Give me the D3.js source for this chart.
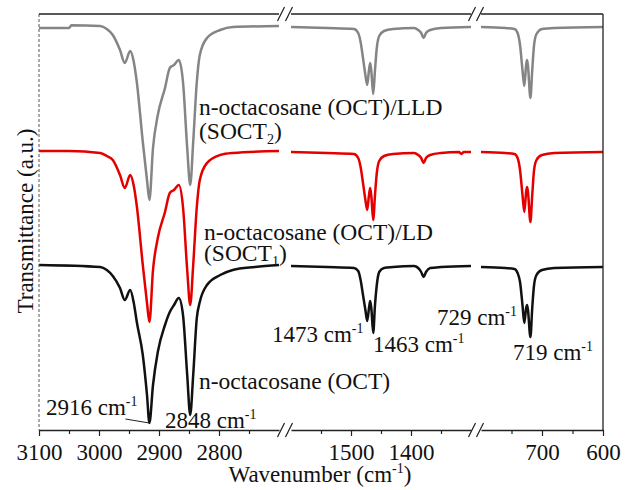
<!DOCTYPE html>
<html>
<head>
<meta charset="utf-8">
<script src="https://cdn.jsdelivr.net/npm/d3@7"></script>
<style>
body { margin: 0; background: #fff; }
svg text { font-family: "Liberation Serif", "Times New Roman", serif; fill: #111; }
</style>
</head>
<body>
<svg id="chart" width="628" height="490"></svg>
<script>
// broken wavenumber axis: three pieces
var segDomains = [[3100, 2700], [1600, 1300], [800, 600]];
var majorTicks = [[3100, 3000, 2900, 2800], [1500, 1400], [700, 600]];
var minorTicks = [[3050, 2950, 2850, 2750], [1550, 1450, 1350], [750, 650]];

// spectra, [wavenumber, transmittance a.u.] (curves are stacked)
var octLLD = [
  [3100, 100.5], [3050, 100.5], [3046, 101.2], [2998, 101], [2987, 100.25], [2977, 98.75],
  [2965, 95], [2957, 91.75], [2948, 94.75], [2942, 92], [2937, 87], [2927, 72], [2920, 62.5],
  [2916, 57.5], [2910, 70.5], [2902, 78.75], [2890, 85.5], [2882, 90.5], [2875, 91.25],
  [2867, 92.5], [2860, 87], [2853, 70.5], [2848, 61.25], [2843, 72], [2837, 87], [2832, 93.75],
  [2820, 98], [2798, 100], [2777, 100.75], [2700, 101],
  [1600, 100.75], [1540, 100.5], [1495, 100.25], [1488, 99.25], [1484, 97], [1480, 93],
  [1476, 88.75], [1473, 86.25], [1470, 90], [1468, 91.75], [1466, 89.5], [1463, 84], [1460, 90],
  [1457, 95.5], [1453, 98.5], [1445, 99.75], [1430, 100.25], [1395, 100.5], [1388, 100],
  [1383, 99.25], [1379, 98], [1375, 99.25], [1368, 100], [1350, 100.5], [1300, 100.75],
  [800, 100.75], [760, 100.5], [745, 100.25], [740, 99.25], [736, 96.25], [732, 90], [729, 86],
  [726, 91.25], [724.5, 92.5], [723, 91], [719, 83], [716, 90], [713, 96.25], [709, 99],
  [700, 100.25], [680, 100.5], [600, 100.75]
];

var octLD = [
  [3100, 69.75], [3050, 69.75], [2998, 69.25], [2987, 68.5], [2977, 67.5], [2965, 63.75],
  [2957, 60.5], [2948, 63.75], [2942, 61], [2937, 56], [2927, 41.25], [2920, 31.75], [2916, 27],
  [2910, 40], [2902, 48], [2890, 54.5], [2882, 59.25], [2875, 60], [2867, 61.25], [2860, 55.75],
  [2853, 40], [2848, 31.25], [2843, 41.25], [2837, 55.75], [2832, 62.5], [2820, 66.75],
  [2798, 68.75], [2777, 69.25], [2700, 69.75],
  [1600, 69.5], [1540, 69.25], [1495, 69], [1488, 68], [1484, 65.75], [1480, 61.75], [1476, 57.5],
  [1473, 55], [1470, 58.75], [1468, 60.5], [1466, 58.25], [1463, 52.5], [1460, 58.75],
  [1457, 64.25], [1453, 67.25], [1445, 68.5], [1430, 69], [1395, 69.25], [1388, 68.75],
  [1383, 68], [1379, 66.75], [1375, 68], [1368, 68.75], [1350, 69.25], [1320, 69.5],
  [1316, 69], [1312, 69.5], [1300, 69.5],
  [800, 69.5], [760, 69.25], [745, 69], [740, 68], [736, 65], [732, 58.75], [729, 54.5],
  [726, 59.5], [724.5, 60.75], [723, 59.5], [719, 52], [716, 58.75], [713, 65], [709, 67.5],
  [700, 68.75], [680, 69.25], [600, 69.5]
];

var oct = [
  [3100, 41.25], [2998, 40.75], [2987, 40], [2977, 38.5], [2965, 35.5], [2957, 32.5], [2948, 35],
  [2942, 31.75], [2937, 27], [2927, 18.75], [2920, 8.75], [2916, 1.75], [2910, 11.25],
  [2902, 19.5], [2890, 26.25], [2882, 29.5], [2875, 31.25], [2867, 33], [2860, 28.75],
  [2853, 13.75], [2848, 3.75], [2843, 13.75], [2837, 28], [2832, 32], [2820, 36.25],
  [2798, 38.75], [2777, 40], [2740, 40.75], [2700, 41.25],
  [1600, 41], [1540, 40.75], [1495, 40.5], [1488, 39.75], [1484, 37.5], [1480, 33.75], [1476, 30],
  [1473, 27.25], [1470, 30.5], [1468, 32.25], [1466, 30.25], [1463, 24.25], [1460, 31.25],
  [1457, 36.25], [1453, 39.5], [1445, 40.5], [1430, 40.75], [1395, 41], [1388, 40.5],
  [1383, 39.5], [1379, 38.25], [1375, 39.5], [1368, 40.5], [1350, 40.75], [1300, 41],
  [800, 40.75], [760, 40.5], [745, 40.25], [740, 39.25], [736, 37], [732, 31.25], [729, 26.75],
  [726, 30.5], [724.5, 31.25], [723, 30], [719, 23.25], [716, 30.5], [713, 36.25], [709, 38.75],
  [700, 40], [680, 40.5], [600, 40.75]
];

var seriesList = [
  { data: octLLD, color: '#858585' },
  { data: octLD, color: '#e50000' },
  { data: oct, color: '#111111' }
];

var svg = d3.select('#chart');
var plotTop = 14, plotBottom = 430, plotLeft = 39, plotRight = 603;
var segRanges = [[39, 279], [291, 471], [481, 603]];

var xs = segDomains.map(function(d, i){
  return d3.scaleLinear().domain(d).range(segRanges[i]);
});
var y = d3.scaleLinear().domain([0, 104]).range([plotBottom, plotTop]);

// spectra
var line = d3.line().curve(d3.curveMonotoneX);
seriesList.forEach(function(s){
  xs.forEach(function(x, i){
    var d = segDomains[i];
    var pts = s.data.filter(function(p){ return p[0] <= d[0] && p[0] >= d[1]; })
      .map(function(p){ return [x(p[0]), y(p[1])]; });
    svg.append('path')
      .attr('d', line(pts))
      .attr('fill', 'none')
      .attr('stroke', s.color)
      .attr('stroke-width', 2.5)
      .attr('stroke-linejoin', 'round');
  });
});

// frame
svg.append('line').attr('x1', plotLeft).attr('x2', plotLeft).attr('y1', plotTop).attr('y2', plotBottom)
  .attr('stroke', '#555').attr('stroke-width', 1).attr('stroke-dasharray', '3,2');
svg.append('line').attr('x1', plotRight).attr('x2', plotRight).attr('y1', plotTop).attr('y2', plotBottom)
  .attr('stroke', '#222').attr('stroke-width', 1.3);

xs.forEach(function(x, i){
  svg.append('line').attr('x1', segRanges[i][0]).attr('x2', segRanges[i][1])
    .attr('y1', plotTop).attr('y2', plotTop).attr('stroke', '#222').attr('stroke-width', 1.3);

  var ax = svg.append('g').attr('transform', 'translate(0,' + plotBottom + ')')
    .call(d3.axisBottom(x).tickValues(majorTicks[i]).tickSize(6).tickSizeOuter(0)
      .tickPadding(8).tickFormat(d3.format('d')));
  ax.attr('font-family', null);
  ax.select('.domain').attr('stroke', '#222').attr('stroke-width', 1.3);
  ax.selectAll('.tick line').attr('stroke', '#222').attr('stroke-width', 1.2);
  ax.selectAll('.tick text').attr('font-size', 23).attr('fill', '#111');

  var mx = svg.append('g').attr('transform', 'translate(0,' + plotBottom + ')')
    .call(d3.axisBottom(x).tickValues(minorTicks[i]).tickSize(4).tickSizeOuter(0).tickFormat(''));
  mx.select('.domain').remove();
  mx.selectAll('.tick line').attr('stroke', '#222').attr('stroke-width', 1.2);
});

// axis break marks
for (var i = 0; i < segRanges.length - 1; i++) {
  var cx = (segRanges[i][1] + segRanges[i + 1][0]) / 2;
  [plotTop, plotBottom].forEach(function(yy){
    [-4, 4].forEach(function(off){
      svg.append('line')
        .attr('x1', cx + off - 3.5).attr('y1', yy + 7)
        .attr('x2', cx + off + 3.5).attr('y2', yy - 7)
        .attr('stroke', '#222').attr('stroke-width', 1.3);
    });
  });
}

// text with super/subscripts: parts = [text, shift] (1 = sup, -1 = sub)
function richText(x, yy, parts, size, extra){
  var t = svg.append('text').attr('x', x).attr('y', yy).attr('font-size', size || 23);
  if (extra) extra(t);
  var shift = 0;
  parts.forEach(function(p){
    var want = p[1] === 1 ? -9 : (p[1] === -1 ? 5 : 0);
    var ts = t.append('tspan').text(p[0]).attr('dy', want - shift);
    if (p[1] !== 0) ts.attr('font-size', 14);
    shift = want;
  });
  return t;
}

richText(320, 482, [['Wavenumber (cm', 0], ['-1', 1], [')', 0]], 23, function(t){
  t.attr('text-anchor', 'middle');
});
svg.append('text').attr('transform', 'translate(33,221) rotate(-90)')
  .attr('text-anchor', 'middle').attr('font-size', 23).text('Transmittance (a.u.)');

richText(199, 115, [['n-octacosane (OCT)/LLD', 0]], 23.5);
richText(199, 139, [['(SOCT', 0], ['2', -1], [')', 0]], 23.5);
richText(204, 240, [['n-octacosane (OCT)/LD', 0]], 23.5);
richText(204, 261, [['(SOCT', 0], ['1', -1], [')', 0]], 23.5);
richText(199, 389, [['n-octacosane (OCT)', 0]], 23.5);

richText(46, 415, [['2916 cm', 0], ['-1', 1]]);
svg.append('line').attr('x1', xs[0](2916) - 24).attr('y1', y(1.75) - 4)
  .attr('x2', xs[0](2916)).attr('y2', y(1.75)).attr('stroke', '#222').attr('stroke-width', 1);
richText(165, 428, [['2848 cm', 0], ['-1', 1]]);
richText(272, 342, [['1473 cm', 0], ['-1', 1]]);
richText(373, 352, [['1463 cm', 0], ['-1', 1]]);
richText(437, 325, [['729 cm', 0], ['-1', 1]]);
richText(513, 360, [['719 cm', 0], ['-1', 1]]);
</script>
</body>
</html>
